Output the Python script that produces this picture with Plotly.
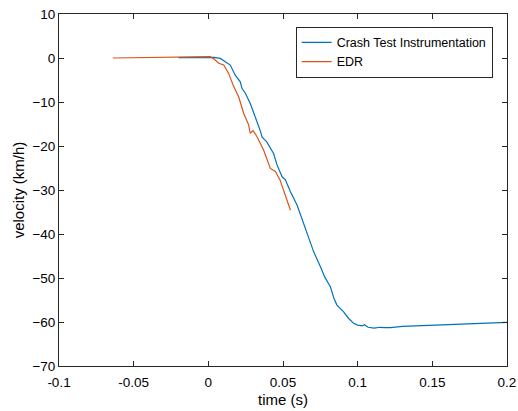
import plotly.graph_objects as go

# Crash Test Instrumentation (blue)
cti_t = [-0.02, -0.01, 0.0, 0.0036, 0.008, 0.0125, 0.0147, 0.018, 0.0214, 0.0225, 0.0248,
         0.028, 0.0315, 0.0337, 0.035, 0.036, 0.039, 0.0415, 0.0437, 0.046, 0.0494, 0.0516,
         0.055, 0.0594, 0.0638, 0.0694, 0.0705, 0.075, 0.078, 0.0817, 0.084, 0.086, 0.0885,
         0.0906, 0.094, 0.0973, 0.100, 0.103, 0.1045, 0.107, 0.111, 0.115, 0.118, 0.122,
         0.13, 0.1375, 0.15, 0.16, 0.18, 0.2]
cti_v = [0.1, 0.15, 0.15, 0.15, -0.1, -1.2, -1.6, -3.9, -5.4, -6.9, -8.0,
         -10.3, -13.3, -15.5, -16.8, -18.0, -19.0, -20.3, -21.7, -24.3, -27.0, -27.7,
         -30.4, -33.4, -37.6, -43.3, -44.0, -47.4, -49.8, -52.0, -54.5, -56.1, -57.0,
         -57.7, -59.2, -60.3, -60.7, -60.9, -60.6, -61.2, -61.4, -61.2, -61.3, -61.3,
         -61.0, -60.9, -60.8, -60.7, -60.4, -60.1]

# EDR (orange)
edr_t = [-0.064, -0.04, -0.02, 0.0, 0.0013, 0.004, 0.007, 0.0103, 0.0136, 0.017, 0.0203,
         0.0237, 0.027, 0.028, 0.030, 0.0326, 0.037, 0.0415, 0.0449, 0.048, 0.0516, 0.055]
edr_v = [0.0, 0.1, 0.2, 0.3, 0.3, -0.3, -1.2, -1.6, -3.5, -6.5, -8.8,
         -12.6, -15.2, -17.1, -16.5, -17.9, -20.9, -25.1, -25.8, -27.7, -31.1, -34.6]

x_ticks = [-0.1, -0.05, 0, 0.05, 0.1, 0.15, 0.2]
x_tick_labels = ["-0.1", "-0.05", "0", "0.05", "0.1", "0.15", "0.2"]
y_ticks = [-70, -60, -50, -40, -30, -20, -10, 0, 10]

axc = "#262626"
font = "Liberation Sans, Arial, sans-serif"

fig = go.Figure()
fig.add_trace(go.Scatter(x=cti_t, y=cti_v, mode="lines", name="Crash Test Instrumentation",
                         line=dict(color="#0072BD", width=1.2)))
fig.add_trace(go.Scatter(x=edr_t, y=edr_v, mode="lines", name="EDR",
                         line=dict(color="#D95319", width=1.2)))

axis_common = dict(showline=True, linecolor=axc, linewidth=1, mirror="ticks",
                   ticks="inside", ticklen=5, tickcolor=axc, showgrid=False, zeroline=False,
                   automargin=False,
                   tickfont=dict(family=font, size=13.5, color="#000000"))

fig.update_layout(
    width=518, height=411,
    margin=dict(l=59, r=11, t=14, b=45),
    paper_bgcolor="white", plot_bgcolor="white",
    font=dict(family=font, size=13, color="#000000"),
    xaxis=dict(range=[-0.1, 0.2], tickvals=x_ticks, ticktext=x_tick_labels,
               ticklabelstandoff=4,
               title=dict(text="time (s)", font=dict(family=font, size=15), standoff=5),
               **axis_common),
    yaxis=dict(range=[-70, 10], tickvals=y_ticks,
               title=dict(text="velocity (km/h)", font=dict(family=font, size=15), standoff=4),
               **axis_common),
    legend=dict(x=0.968, y=0.964, xanchor="right", yanchor="top",
                bordercolor=axc, borderwidth=1, bgcolor="white",
                font=dict(family=font, size=12.5), tracegroupgap=0,
                itemwidth=30),
    showlegend=True,
)

fig.write_html("out.html")
